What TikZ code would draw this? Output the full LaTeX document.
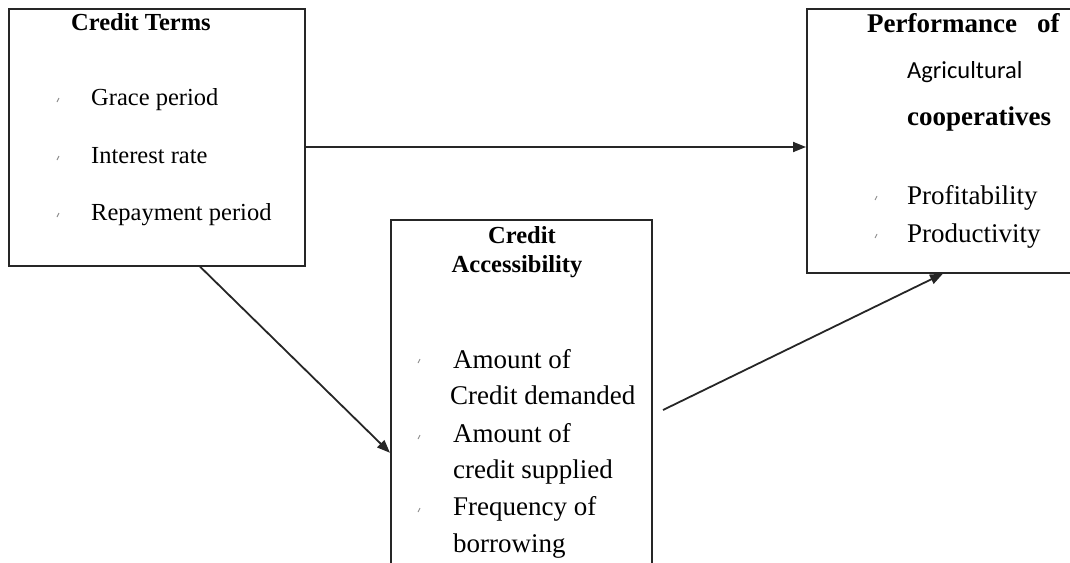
\documentclass[tikz,border=0pt]{standalone}
\usepackage{fontspec}
\setmainfont{Liberation Serif}
\newfontfamily\calib{Carlito}
\usetikzlibrary{arrows.meta}
\begin{document}
\begin{tikzpicture}[x=1pt,y=-1pt,
 box/.style={draw=black!85, line width=1.6pt, inner sep=0pt, anchor=north west},
 txt/.style={anchor=base west, inner sep=0pt, font=\fontsize{24.5}{28}\selectfont},
 bigtxt/.style={anchor=base west, inner sep=0pt, font=\fontsize{27}{30}\selectfont},
 hd/.style={anchor=base west, inner sep=0pt, font=\fontsize{24.5}{28}\selectfont\bfseries},
 bighd/.style={anchor=base west, inner sep=0pt, font=\fontsize{27}{30}\selectfont\bfseries},
 arr/.style={draw=black!85, line width=1.8pt, -{Triangle[length=13pt,width=10pt]}},
 blt/.style={draw=black!45, line width=0.9pt}]
\useasboundingbox (0,0) rectangle (1070,562);
\clip (0,0) rectangle (1070,562);
% boxes
\node[box, minimum width=296pt, minimum height=257pt] (terms) at (8,8) {};
\node[box, minimum width=261pt, minimum height=400pt] (access) at (390,219) {};
\node[box, minimum width=280pt, minimum height=264pt] (perf) at (806,8) {};
% box 1 text
\node[hd] (t0) at (71,30) {Credit Terms};
\node[txt] (t1) at (91,105) {Grace period};
\node[txt] (t2) at (91,163) {Interest rate};
\node[txt] (t3) at (91,220) {Repayment period};
% box 2 text
\node[hd, anchor=base] (a0) at (522,243) {Credit};
\node[hd, anchor=base] (a1) at (517,272) {Accessibility};
\node[bigtxt] (a2) at (453,368) {Amount of};
\node[bigtxt] (a3) at (450,404) {Credit demanded};
\node[bigtxt] (a4) at (453,442) {Amount of};
\node[bigtxt] (a5) at (453,478) {credit supplied};
\node[bigtxt] (a6) at (453,515) {Frequency of};
\node[bigtxt] (a7) at (453,552) {borrowing};
% box 3 text
\node[bighd] (p0) at (867,32) {Performance};
\node[bighd] (p0b) at (1037,32) {of};
\node[txt, font=\fontsize{24.5}{28}\selectfont\calib] (p1) at (907,78) {Agricultural};
\node[bighd] (p2) at (907,125) {cooperatives};
\node[bigtxt] (p3) at (907,204) {Profitability};
\node[bigtxt] (p4) at (907,242) {Productivity};
% bullets
\foreach \x/\y in {58/100, 58/158, 58/215, 419/361, 419/437, 419/510, 876/198, 876/236}
  \draw[blt] (\x+1,\y-2) -- (\x-1,\y+2);
% connectors
\coordinate (h) at (0,147);
\coordinate (s3) at (663,410);
\draw[arr] (terms.east |- h) -- (perf.west |- h);
\draw[arr] ([xshift=192pt]terms.south west) -- ([yshift=-33pt]access.west);
\draw[arr] (s3) -- ([xshift=137pt]perf.south west);
\end{tikzpicture}
\end{document}
